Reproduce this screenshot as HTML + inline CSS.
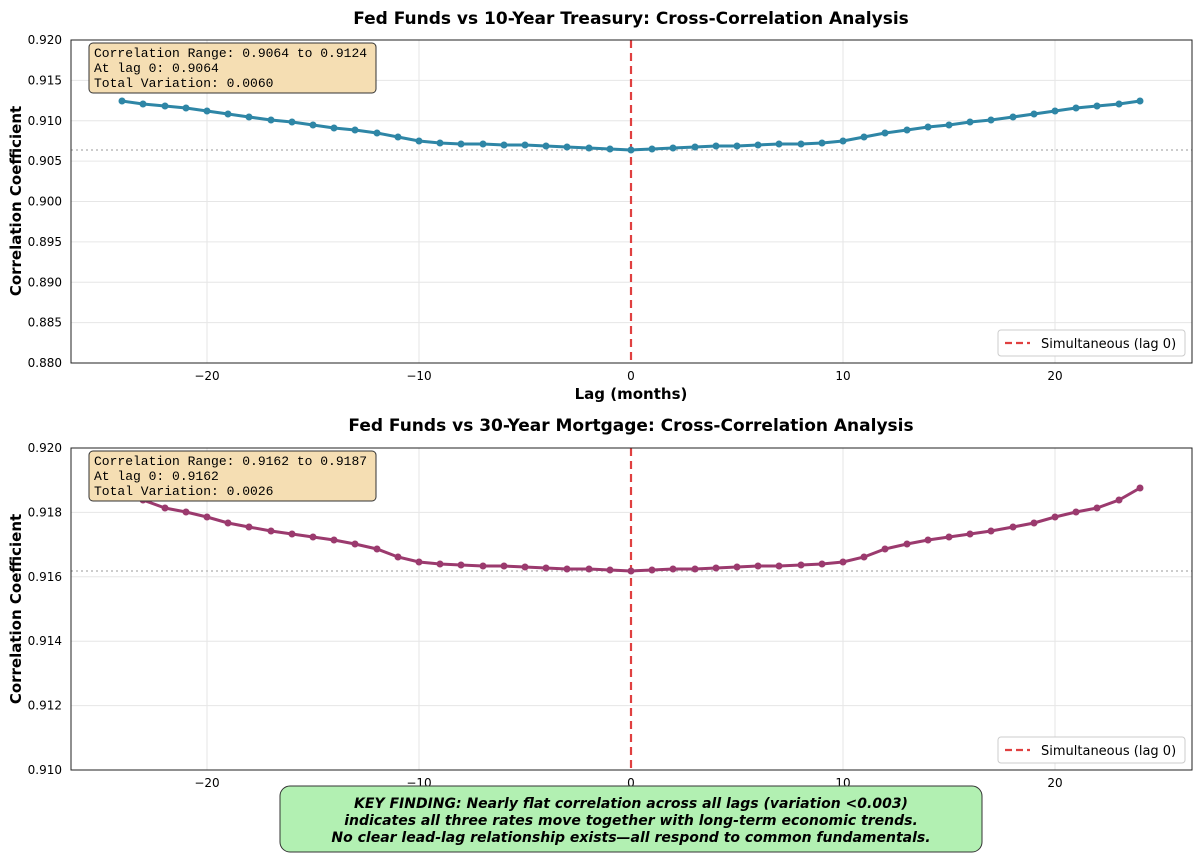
<!DOCTYPE html>
<html><head><meta charset="utf-8"><style>
body{margin:0;background:#fff;}
svg text{font-family:"DejaVu Sans","Liberation Sans",sans-serif;}
svg text.mono{font-family:"Liberation Mono","DejaVu Sans Mono",monospace;font-size:13px;}
</style></head><body>
<svg width="1200" height="853" viewBox="0 0 1200 853" xmlns="http://www.w3.org/2000/svg">
<rect width="1200" height="853" fill="#fff"/>
<g id="top">
<text x="631" y="24" font-size="17" font-weight="bold" text-anchor="middle">Fed Funds vs 10-Year Treasury: Cross-Correlation Analysis</text>
<g stroke="#e6e6e6" stroke-width="1">
<line x1="71" x2="1192" y1="40" y2="40"/><line x1="71" x2="1192" y1="80.4" y2="80.4"/><line x1="71" x2="1192" y1="120.8" y2="120.8"/><line x1="71" x2="1192" y1="161.1" y2="161.1"/><line x1="71" x2="1192" y1="201.5" y2="201.5"/><line x1="71" x2="1192" y1="241.9" y2="241.9"/><line x1="71" x2="1192" y1="282.3" y2="282.3"/><line x1="71" x2="1192" y1="322.6" y2="322.6"/>
<line x1="207" x2="207" y1="40" y2="363"/><line x1="419" x2="419" y1="40" y2="363"/><line x1="843" x2="843" y1="40" y2="363"/><line x1="1055" x2="1055" y1="40" y2="363"/>
</g>
<line x1="71" x2="1192" y1="150" y2="150" stroke="#bbb" stroke-width="1.5" stroke-dasharray="2,3"/>
<line x1="631" x2="631" y1="40" y2="363" stroke="#e04040" stroke-width="2.2" stroke-dasharray="8,5"/>
<polyline fill="none" stroke="#2e86a6" stroke-width="3" points="122,101 143,104 165,106 186,108 207,111 228,114 249,117 271,120 292,122 313,125 334,128 355,130 377,133 398,137 419,141 440,143 461,144 483,144 504,145 525,145 546,146 567,147 589,148 610,149 631,150 652,149 673,148 695,147 716,146 737,146 758,145 779,144 801,144 822,143 843,141 864,137 885,133 907,130 928,127 949,125 970,122 991,120 1013,117 1034,114 1055,111 1076,108 1097,106 1119,104 1140,101"/>
<g fill="#2e86a6">
<circle cx="122" cy="101" r="3.5"/><circle cx="143" cy="104" r="3.5"/><circle cx="165" cy="106" r="3.5"/><circle cx="186" cy="108" r="3.5"/><circle cx="207" cy="111" r="3.5"/><circle cx="228" cy="114" r="3.5"/><circle cx="249" cy="117" r="3.5"/><circle cx="271" cy="120" r="3.5"/><circle cx="292" cy="122" r="3.5"/><circle cx="313" cy="125" r="3.5"/><circle cx="334" cy="128" r="3.5"/><circle cx="355" cy="130" r="3.5"/><circle cx="377" cy="133" r="3.5"/><circle cx="398" cy="137" r="3.5"/><circle cx="419" cy="141" r="3.5"/><circle cx="440" cy="143" r="3.5"/><circle cx="461" cy="144" r="3.5"/><circle cx="483" cy="144" r="3.5"/><circle cx="504" cy="145" r="3.5"/><circle cx="525" cy="145" r="3.5"/><circle cx="546" cy="146" r="3.5"/><circle cx="567" cy="147" r="3.5"/><circle cx="589" cy="148" r="3.5"/><circle cx="610" cy="149" r="3.5"/><circle cx="631" cy="150" r="3.5"/><circle cx="652" cy="149" r="3.5"/><circle cx="673" cy="148" r="3.5"/><circle cx="695" cy="147" r="3.5"/><circle cx="716" cy="146" r="3.5"/><circle cx="737" cy="146" r="3.5"/><circle cx="758" cy="145" r="3.5"/><circle cx="779" cy="144" r="3.5"/><circle cx="801" cy="144" r="3.5"/><circle cx="822" cy="143" r="3.5"/><circle cx="843" cy="141" r="3.5"/><circle cx="864" cy="137" r="3.5"/><circle cx="885" cy="133" r="3.5"/><circle cx="907" cy="130" r="3.5"/><circle cx="928" cy="127" r="3.5"/><circle cx="949" cy="125" r="3.5"/><circle cx="970" cy="122" r="3.5"/><circle cx="991" cy="120" r="3.5"/><circle cx="1013" cy="117" r="3.5"/><circle cx="1034" cy="114" r="3.5"/><circle cx="1055" cy="111" r="3.5"/><circle cx="1076" cy="108" r="3.5"/><circle cx="1097" cy="106" r="3.5"/><circle cx="1119" cy="104" r="3.5"/><circle cx="1140" cy="101" r="3.5"/>
</g>
<rect x="71" y="40" width="1121" height="323" fill="none" stroke="#222" stroke-width="1"/>
<g font-size="12" text-anchor="end">
<text x="62" y="44">0.920</text><text x="62" y="84.4">0.915</text><text x="62" y="124.8">0.910</text><text x="62" y="165.1">0.905</text><text x="62" y="205.5">0.900</text><text x="62" y="245.9">0.895</text><text x="62" y="286.3">0.890</text><text x="62" y="326.6">0.885</text><text x="62" y="367">0.880</text>
</g>
<g font-size="12" text-anchor="middle">
<text x="207" y="380">−20</text><text x="419" y="380">−10</text><text x="631" y="380">0</text><text x="843" y="380">10</text><text x="1055" y="380">20</text>
</g>
<text x="631" y="399" font-size="15" font-weight="bold" text-anchor="middle">Lag (months)</text>
<text transform="translate(21,201) rotate(-90)" font-size="15" font-weight="bold" text-anchor="middle">Correlation Coefficient</text>
<rect x="89" y="43" width="287" height="50" rx="4" fill="#f5deb3" stroke="#333" stroke-width="1"/>
<text class="mono" x="94" y="57">Correlation Range: 0.9064 to 0.9124</text><text class="mono" x="94" y="72">At lag 0: 0.9064</text><text class="mono" x="94" y="87">Total Variation: 0.0060</text>
<rect x="998" y="330" width="187" height="26" rx="3" fill="#fff" stroke="#ccc"/>
<line x1="1005" x2="1030" y1="343" y2="343" stroke="#e04040" stroke-width="2.2" stroke-dasharray="7,4"/>
<text x="1041" y="348" font-size="13">Simultaneous (lag 0)</text>
</g>
<g id="bot">
<text x="631" y="431" font-size="17" font-weight="bold" text-anchor="middle">Fed Funds vs 30-Year Mortgage: Cross-Correlation Analysis</text>
<g stroke="#e6e6e6" stroke-width="1">
<line x1="71" x2="1192" y1="512.4" y2="512.4"/><line x1="71" x2="1192" y1="576.8" y2="576.8"/><line x1="71" x2="1192" y1="641.2" y2="641.2"/><line x1="71" x2="1192" y1="705.6" y2="705.6"/>
<line x1="207" x2="207" y1="448" y2="770"/><line x1="419" x2="419" y1="448" y2="770"/><line x1="843" x2="843" y1="448" y2="770"/><line x1="1055" x2="1055" y1="448" y2="770"/>
</g>
<line x1="71" x2="1192" y1="571" y2="571" stroke="#bbb" stroke-width="1.5" stroke-dasharray="2,3"/>
<line x1="631" x2="631" y1="448" y2="770" stroke="#e04040" stroke-width="2.2" stroke-dasharray="8,5"/>
<polyline fill="none" stroke="#9b3a6e" stroke-width="3" points="122,490 143,500 165,508 186,512 207,517 228,523 249,527 271,531 292,534 313,537 334,540 355,544 377,549 398,557 419,562 440,564 461,565 483,566 504,566 525,567 546,568 567,569 589,569 610,570 631,571 652,570 673,569 695,569 716,568 737,567 758,566 779,566 801,565 822,564 843,562 864,557 885,549 907,544 928,540 949,537 970,534 991,531 1013,527 1034,523 1055,517 1076,512 1097,508 1119,500 1140,488"/>
<g fill="#9b3a6e">
<circle cx="143" cy="500" r="3.5"/><circle cx="165" cy="508" r="3.5"/><circle cx="186" cy="512" r="3.5"/><circle cx="207" cy="517" r="3.5"/><circle cx="228" cy="523" r="3.5"/><circle cx="249" cy="527" r="3.5"/><circle cx="271" cy="531" r="3.5"/><circle cx="292" cy="534" r="3.5"/><circle cx="313" cy="537" r="3.5"/><circle cx="334" cy="540" r="3.5"/><circle cx="355" cy="544" r="3.5"/><circle cx="377" cy="549" r="3.5"/><circle cx="398" cy="557" r="3.5"/><circle cx="419" cy="562" r="3.5"/><circle cx="440" cy="564" r="3.5"/><circle cx="461" cy="565" r="3.5"/><circle cx="483" cy="566" r="3.5"/><circle cx="504" cy="566" r="3.5"/><circle cx="525" cy="567" r="3.5"/><circle cx="546" cy="568" r="3.5"/><circle cx="567" cy="569" r="3.5"/><circle cx="589" cy="569" r="3.5"/><circle cx="610" cy="570" r="3.5"/><circle cx="631" cy="571" r="3.5"/><circle cx="652" cy="570" r="3.5"/><circle cx="673" cy="569" r="3.5"/><circle cx="695" cy="569" r="3.5"/><circle cx="716" cy="568" r="3.5"/><circle cx="737" cy="567" r="3.5"/><circle cx="758" cy="566" r="3.5"/><circle cx="779" cy="566" r="3.5"/><circle cx="801" cy="565" r="3.5"/><circle cx="822" cy="564" r="3.5"/><circle cx="843" cy="562" r="3.5"/><circle cx="864" cy="557" r="3.5"/><circle cx="885" cy="549" r="3.5"/><circle cx="907" cy="544" r="3.5"/><circle cx="928" cy="540" r="3.5"/><circle cx="949" cy="537" r="3.5"/><circle cx="970" cy="534" r="3.5"/><circle cx="991" cy="531" r="3.5"/><circle cx="1013" cy="527" r="3.5"/><circle cx="1034" cy="523" r="3.5"/><circle cx="1055" cy="517" r="3.5"/><circle cx="1076" cy="512" r="3.5"/><circle cx="1097" cy="508" r="3.5"/><circle cx="1119" cy="500" r="3.5"/><circle cx="1140" cy="488" r="3.5"/>
</g>
<rect x="71" y="448" width="1121" height="322" fill="none" stroke="#222" stroke-width="1"/>
<g font-size="12" text-anchor="end">
<text x="62" y="452">0.920</text><text x="62" y="516.4">0.918</text><text x="62" y="580.8">0.916</text><text x="62" y="645.2">0.914</text><text x="62" y="709.6">0.912</text><text x="62" y="774">0.910</text>
</g>
<g font-size="12" text-anchor="middle">
<text x="207" y="787">−20</text><text x="419" y="787">−10</text><text x="631" y="787">0</text><text x="843" y="787">10</text><text x="1055" y="787">20</text>
</g>
<text x="631" y="806" font-size="15" font-weight="bold" text-anchor="middle" fill="#5a8a5a">Lag (months)</text>
<text transform="translate(21,609) rotate(-90)" font-size="15" font-weight="bold" text-anchor="middle">Correlation Coefficient</text>
<rect x="89" y="451" width="287" height="50" rx="4" fill="#f5deb3" stroke="#333" stroke-width="1"/>
<text class="mono" x="94" y="465">Correlation Range: 0.9162 to 0.9187</text><text class="mono" x="94" y="480">At lag 0: 0.9162</text><text class="mono" x="94" y="495">Total Variation: 0.0026</text>
<rect x="998" y="737" width="187" height="26" rx="3" fill="#fff" stroke="#ccc"/>
<line x1="1005" x2="1030" y1="750" y2="750" stroke="#e04040" stroke-width="2.2" stroke-dasharray="7,4"/>
<text x="1041" y="755" font-size="13">Simultaneous (lag 0)</text>
</g>
<rect x="280" y="786" width="702" height="66" rx="10" fill="#b2f0b2" stroke="#333" stroke-width="1"/>
<g font-size="14" font-weight="bold" font-style="italic" text-anchor="middle">
<text x="631" y="808">KEY FINDING: Nearly flat correlation across all lags (variation &lt;0.003)</text>
<text x="631" y="825">indicates all three rates move together with long-term economic trends.</text>
<text x="631" y="842">No clear lead-lag relationship exists—all respond to common fundamentals.</text>
</g>
</svg>
</body></html>
